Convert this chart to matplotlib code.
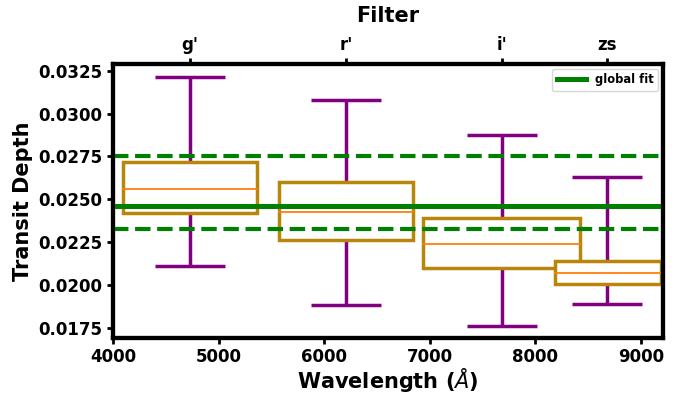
import matplotlib
matplotlib.use('Agg')
import matplotlib.pyplot as plt
from matplotlib.patches import Rectangle

plt.rcParams['font.family'] = 'DejaVu Sans'

# per-filter transit depths
filters = ["g'", "r'", "i'", "zs"]
wave_center = [4728, 6207, 7683, 8680]
wave_lo = [4091, 5575, 6939, 8182]
wave_hi = [5364, 6841, 8425, 9186]
depth_median = [0.02559, 0.02426, 0.02238, 0.02071]
box_lo = [0.02418, 0.02260, 0.02100, 0.02008]
box_hi = [0.02718, 0.02598, 0.02393, 0.02139]
err_lo = [0.02110, 0.01885, 0.01758, 0.01886]
err_hi = [0.03216, 0.03081, 0.02875, 0.02631]

# global fit and its 1-sigma band
global_fit = 0.02463
global_lo = 0.02324
global_hi = 0.02754

fig = plt.figure(figsize=(6.78, 3.95), dpi=100)
ax = fig.add_axes([0.1667, 0.1443, 0.8113, 0.6937])

yerr = [[m - lo for m, lo in zip(depth_median, err_lo)],
        [hi - m for m, hi in zip(depth_median, err_hi)]]
ax.errorbar(wave_center, depth_median, yerr=yerr, fmt='none', ecolor='purple',
            elinewidth=2.5, capsize=25.5, capthick=2.5, zorder=1)

for x0, x1, b0, b1, m in zip(wave_lo, wave_hi, box_lo, box_hi, depth_median):
    ax.add_patch(Rectangle((x0, b0), x1 - x0, b1 - b0, facecolor='white',
                           edgecolor='darkgoldenrod', linewidth=2.5, zorder=2))
    ax.plot([x0, x1], [m, m], color='#ff7f0e', linewidth=1.3, zorder=3)

ax.axhline(global_fit, color='green', linewidth=3.6, label='global fit', zorder=4)
ax.axhline(global_lo, color='green', linewidth=3, linestyle='--', zorder=4)
ax.axhline(global_hi, color='green', linewidth=3, linestyle='--', zorder=4)

ax.set_xlim(4000, 9210)
ax.set_ylim(0.01690, 0.03290)
ax.set_yticks([0.0175, 0.0200, 0.0225, 0.0250, 0.0275, 0.0300, 0.0325])
ax.set_xticks([4000, 5000, 6000, 7000, 8000, 9000])
ax.tick_params(labelsize=12, width=2, length=4)
for lbl in ax.get_xticklabels() + ax.get_yticklabels():
    lbl.set_fontweight('bold')
for sp in ax.spines.values():
    sp.set_linewidth(3)

ax.set_xlabel(r'Wavelength ($\AA$)', fontsize=15, fontweight='bold', labelpad=0)
ax.set_ylabel('Transit Depth', fontsize=15, fontweight='bold')

top = ax.twiny()
top.set_xlim(ax.get_xlim())
top.set_xticks(wave_center)
top.set_xticklabels(filters, fontsize=12, fontweight='bold')
top.tick_params(width=2, length=4)
top.set_xlabel('Filter', fontsize=15, fontweight='bold', labelpad=10)
for sp in top.spines.values():
    sp.set_linewidth(3)

leg = ax.legend(loc='upper right', prop={'size': 8.3, 'weight': 'bold'},
                handlelength=2.5, borderaxespad=0.4)

fig.savefig('out.png', dpi=100)
